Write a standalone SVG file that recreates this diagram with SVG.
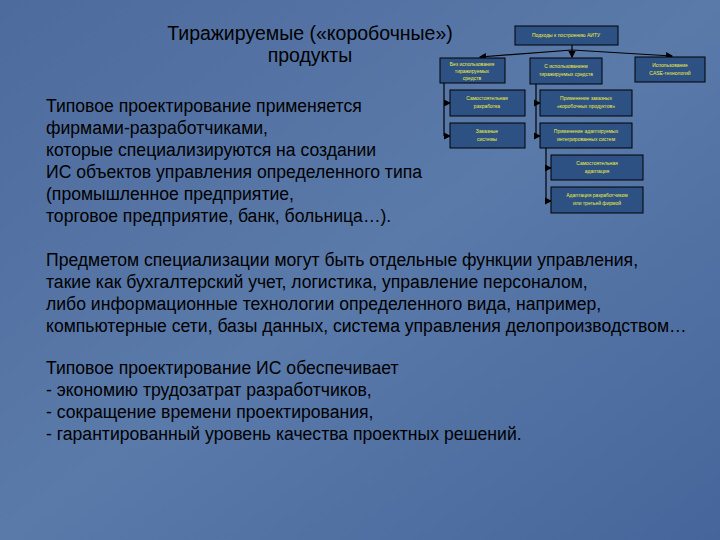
<svg xmlns="http://www.w3.org/2000/svg" width="720" height="540" viewBox="0 0 720 540">
<defs>
<linearGradient id="bg" x1="0" y1="0" x2="1" y2="1"><stop offset="0" stop-color="#4d6b9c"/><stop offset="0.5" stop-color="#5a7aaa"/><stop offset="1" stop-color="#46659a"/></linearGradient>
<marker id="ar" markerWidth="6" markerHeight="6" refX="5" refY="3" orient="auto"><path d="M0,0L6,3L0,6z" fill="#000"/></marker>
</defs>
<style>
.t{font-family:"Liberation Sans",Arial,sans-serif;fill:#000}
.m{font-size:17.6px}
.h{font-size:19.5px}
.b rect{fill:#2e5184;stroke:#000;stroke-width:1}
.b text{font-family:"Liberation Sans",Arial,sans-serif;font-size:5px;fill:#f0f040;text-anchor:middle}
.c{stroke:#000;stroke-width:1.2;fill:none}
</style>
<rect width="720" height="540" fill="url(#bg)"/>
<g class="t h" text-anchor="middle"><text x="310" y="40">Тиражируемые («коробочные»)</text><text x="310" y="62">продукты</text></g>
<g class="t m">
<text x="46" y="112">Типовое проектирование применяется</text>
<text x="46" y="134">фирмами-разработчиками,</text>
<text x="46" y="156">которые специализируются на создании</text>
<text x="46" y="178">ИС объектов управления определенного типа</text>
<text x="46" y="200">(промышленное предприятие,</text>
<text x="46" y="222">торговое предприятие, банк, больница…).</text>
<text x="46" y="266">Предметом специализации могут быть отдельные функции управления,</text>
<text x="46" y="288">такие как бухгалтерский учет, логистика, управление персоналом,</text>
<text x="46" y="310">либо информационные технологии определенного вида, например,</text>
<text x="46" y="332">компьютерные сети, базы данных, система управления делопроизводством…</text>
<text x="46" y="374">Типовое проектирование ИС обеспечивает</text>
<text x="46" y="396">- экономию трудозатрат разработчиков,</text>
<text x="46" y="418">- сокращение времени проектирования,</text>
<text x="46" y="440">- гарантированный уровень качества проектных решений.</text>
</g>
<g id="connectors" class="c">
<path d="M572,45V57" marker-end="url(#ar)"/>
<path d="M572,50L480,57" marker-end="url(#ar)"/>
<path d="M572,50L672,56" marker-end="url(#ar)"/>
<path d="M444,82V136"/><path d="M444,103H450" marker-end="url(#ar)"/><path d="M444,136H450" marker-end="url(#ar)"/>
<path d="M536,84V136"/><path d="M536,103H540" marker-end="url(#ar)"/><path d="M536,136H540" marker-end="url(#ar)"/>
<path d="M546,148V201"/><path d="M546,168H551" marker-end="url(#ar)"/><path d="M546,201H551" marker-end="url(#ar)"/>
</g>
<g id="n0" class="b"><rect x="515" y="26" width="103" height="19"/><text x="566" y="37">Подходы к построению АИТУ</text></g>
<g id="nA" class="b"><rect x="440" y="58" width="65" height="25"/><text x="472" y="66">Без использования</text><text x="472" y="73">тиражируемых</text><text x="472" y="80">средств</text></g>
<g id="nB" class="b"><rect x="530" y="58" width="72" height="26"/><text x="566" y="68">С использованием</text><text x="566" y="76">тиражируемых средств</text></g>
<g id="nC" class="b"><rect x="635" y="57" width="70" height="25"/><text x="670" y="67">Использование</text><text x="670" y="75">CASE-технологий</text></g>
<g id="nA1" class="b"><rect x="450" y="90" width="75" height="26"/><text x="487" y="100">Самостоятельная</text><text x="487" y="108">разработка</text></g>
<g id="nA2" class="b"><rect x="450" y="123" width="75" height="25"/><text x="487" y="133">Заказные</text><text x="487" y="141">системы</text></g>
<g id="nB1" class="b"><rect x="540" y="90" width="92" height="26"/><text x="586" y="100">Применение заказных</text><text x="586" y="108">«коробочных продуктов»</text></g>
<g id="nB2" class="b"><rect x="540" y="123" width="92" height="25"/><text x="586" y="133">Применение адаптируемых</text><text x="586" y="141">интегрированных систем</text></g>
<g id="nB3" class="b"><rect x="551" y="155" width="92" height="25"/><text x="597" y="165">Самостоятельная</text><text x="597" y="173">адаптация</text></g>
<g id="nB4" class="b"><rect x="551" y="187" width="92" height="26"/><text x="597" y="197">Адаптация разработчиком</text><text x="597" y="205">или третьей фирмой</text></g>
</svg>
